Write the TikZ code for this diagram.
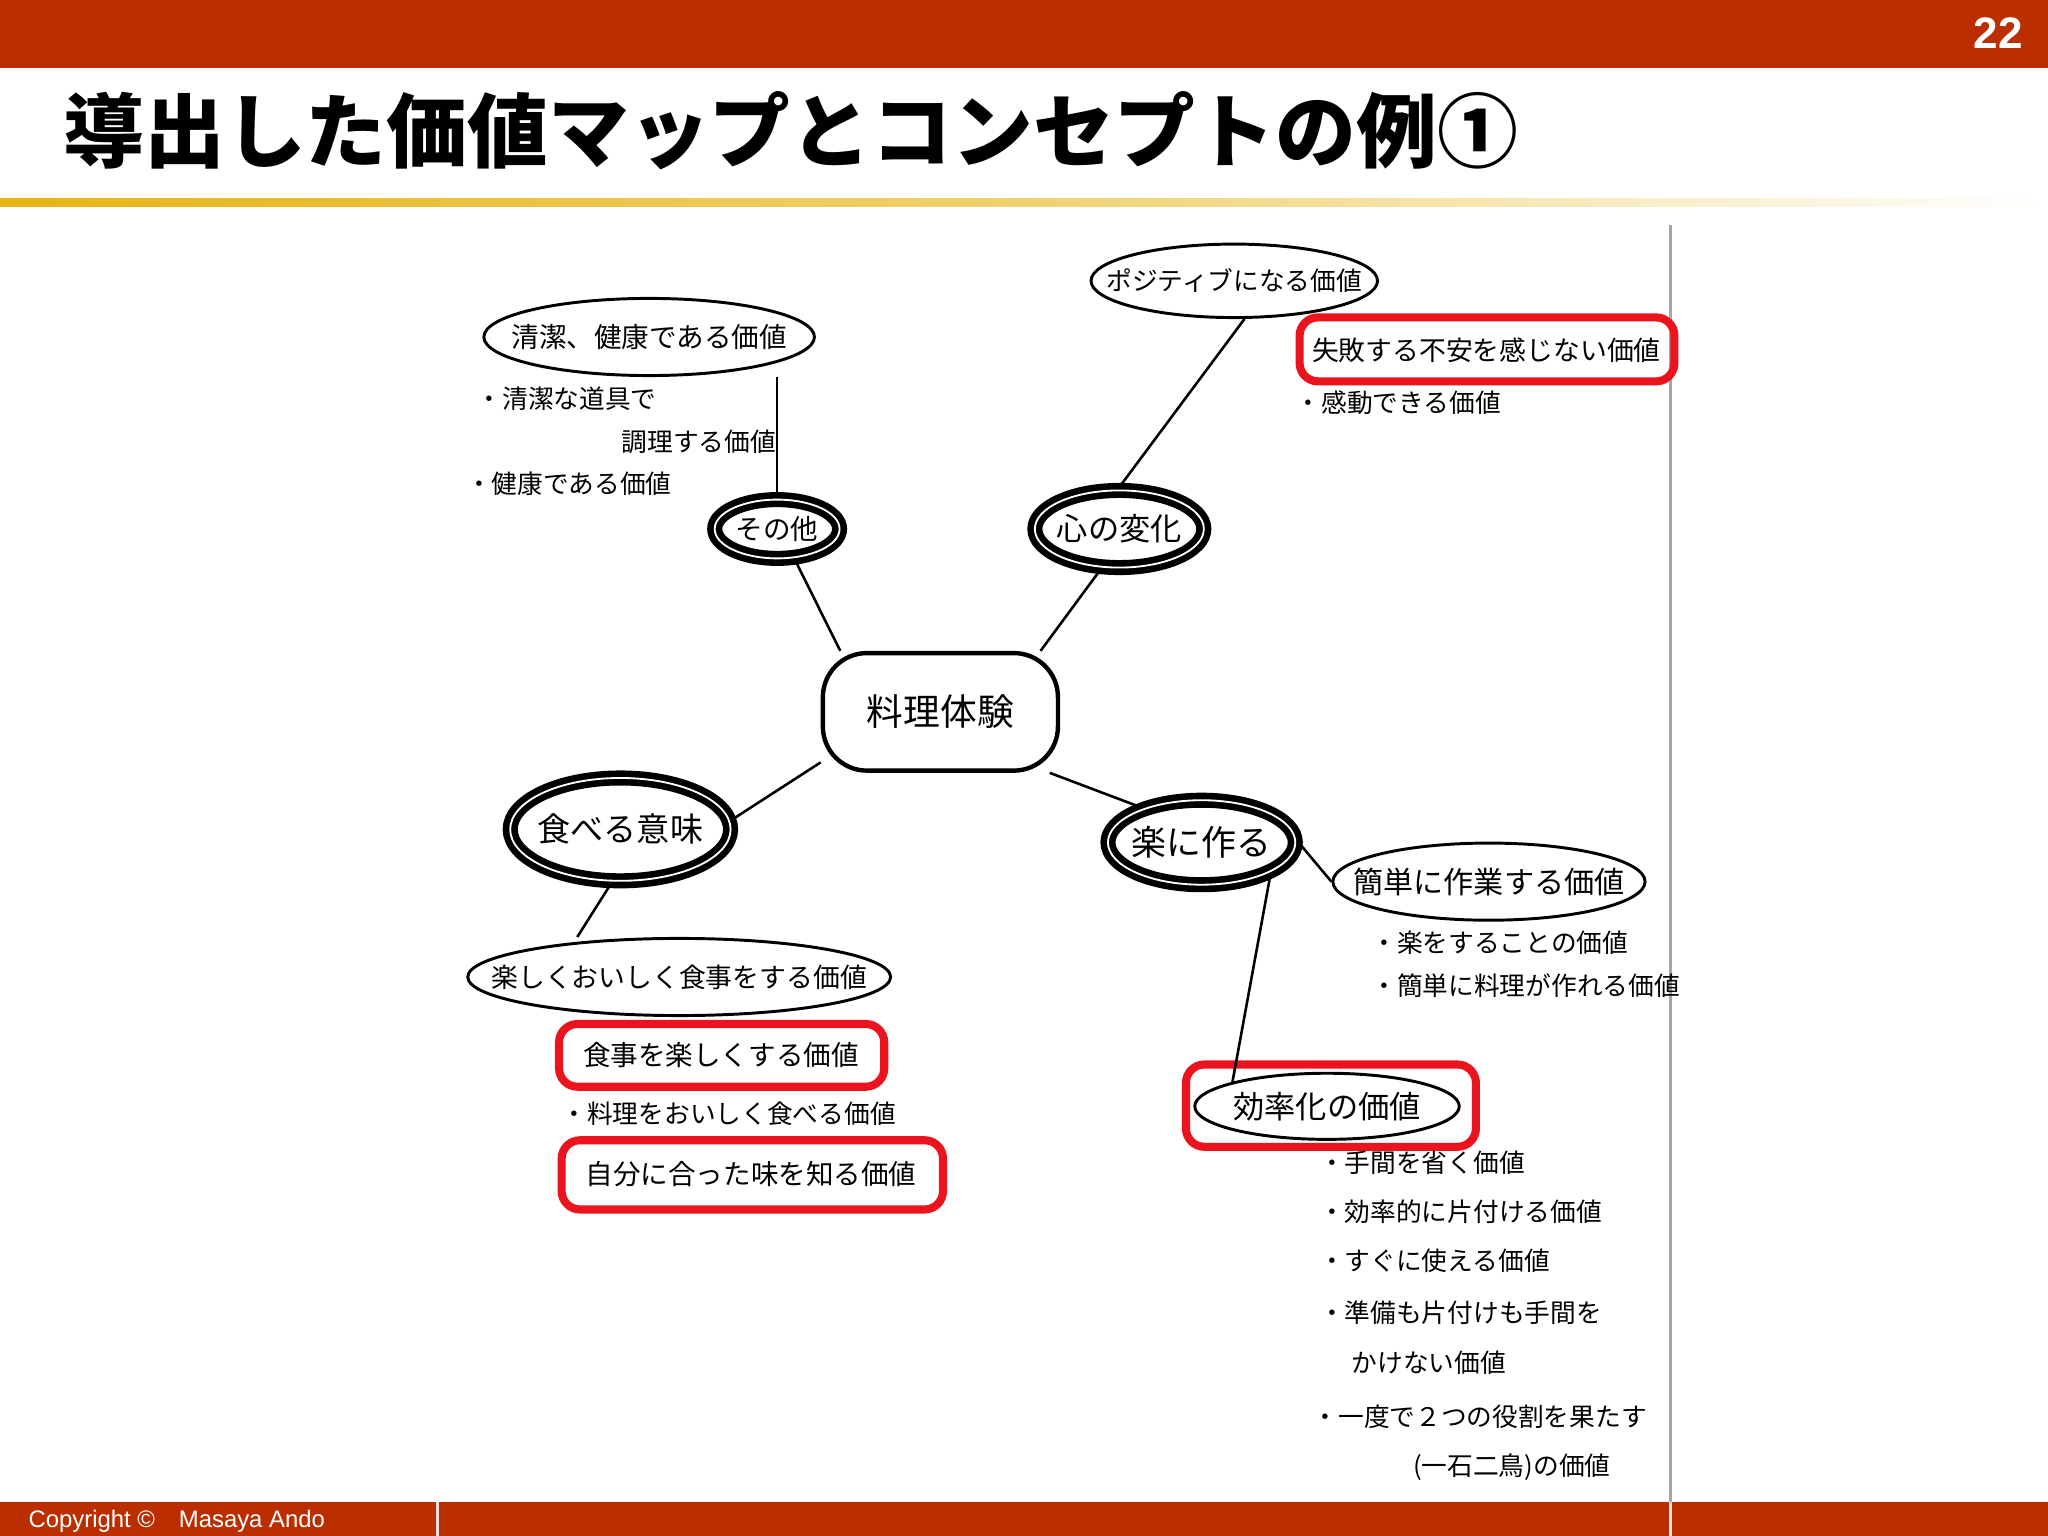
\documentclass[tikz,border=0pt]{standalone}
\usepackage{fontspec}
\setmainfont{Noto Sans CJK JP}
\newfontfamily\jp{Noto Sans CJK JP}
\newfontfamily\arialf{Liberation Sans}
\definecolor{barred}{RGB}{186,46,0}
\definecolor{boxred}{RGB}{235,20,30}
\definecolor{goldl}{RGB}{230,180,20}
\usetikzlibrary{shapes.geometric}
\newcommand{\fs}[1]{\jp\fontsize{#1}{#1}\selectfont}
\begin{document}
\begin{tikzpicture}[x=0.0125cm,y=-0.0125cm,
  bub/.style={draw,ellipse,line width=0.8pt,inner ysep=0pt},
  hub/.style={draw,ellipse,line width=1.8pt,double=white,double distance=0.5pt,inner ysep=0pt},
  redbox/.style={draw=boxred,line width=2.2pt,rounded corners=5pt},
  lst/.style={font=\fs{7},align=left,anchor=north west},
  ln/.style={line width=0.7pt}]
\useasboundingbox (0,0) rectangle (1568,1176);
\fill[white] (0,0) rectangle (1568,1176);
\fill[barred] (0,0) rectangle (1568,52);
\node[text=white,font=\arialf\bfseries\fontsize{12}{14}\selectfont] (pg) at (1530,25) {22};
\node[anchor=west,inner sep=0pt,font=\jp\bfseries\fontsize{22}{24}\selectfont] (title) at (48,100) {導出した価値マップとコンセプトの例①};
\shade[left color=goldl,right color=goldl!60!white] (0,152) rectangle (800,158);
\shade[left color=goldl!60!white,right color=white] (800,152) rectangle (1568,158);
\draw[gray!70,line width=0.6pt] (1279,172) -- (1279,1150);
\fill[barred] (0,1150) rectangle (1568,1176);
\draw[white!85!barred,line width=0.6pt] (335,1150) -- (335,1176) (1279,1150) -- (1279,1176);
\node[anchor=west,text=white,font=\arialf\fontsize{6.5}{8}\selectfont] (copy) at (12,1165) {Copyright ©\quad Masaya Ando};

% center and hubs
\node[draw,rounded corners=12pt,line width=1.2pt,minimum width=64pt,minimum height=32pt,font=\fs{10}] (core) at (720,545) {料理体験};
\node[hub,inner xsep=0pt,minimum width=34pt,minimum height=16pt,font=\fs{7.5}] (sono) at (595,405) {その他};
\node[hub,inner xsep=-1.3pt,minimum width=46pt,minimum height=21pt,font=\fs{8.5}] (kok) at (857,405) {心の変化};
\node[hub,inner xsep=-1.8pt,minimum width=60pt,minimum height=28pt,font=\fs{9}] (tab) at (475,635) {食べる意味};
\node[hub,inner xsep=-1.5pt,minimum width=51pt,minimum height=23pt,font=\fs{9.5}] (raku) at (920,645) {楽に作る};

% value bubbles
\node[bub,inner xsep=-5.7pt,minimum width=90pt,minimum height=21pt,font=\fs{7.5}] (seik) at (497,258) {清潔、健康である価値};
\node[bub,inner xsep=-7.4pt,minimum width=78pt,minimum height=20pt,font=\fs{7}] (posi) at (945,215) {ポジティブになる価値};
\node[bub,inner xsep=-7pt,minimum width=85pt,minimum height=21pt,font=\fs{8.2}] (kan) at (1140,675) {簡単に作業する価値};
\node[bub,inner xsep=-10.4pt,minimum width=115pt,minimum height=21pt,font=\fs{7.3}] (tano) at (520,748) {楽しくおいしく食事をする価値};
\node[bub,inner xsep=-1pt,minimum width=72pt,minimum height=18pt,font=\fs{8.5}] (kou) at (1016,847) {効率化の価値};
\draw[redbox] (908,815) rectangle (1130,878);

\draw[redbox] (995,243) rectangle (1282,292);
\node[font=\fs{7.3}] (shippai) at (1138,268) {失敗する不安を感じない価値};
\draw[redbox] (428,784) rectangle (677,832);
\node[font=\fs{7.5}] (shoku) at (552,808) {食事を楽しくする価値};
\draw[redbox] (430,873) rectangle (722,926);
\node[font=\fs{7.5}] (jibun) at (575,899) {自分に合った味を知る価値};

% lists
\node[lst,anchor=west] (l1a) at (355,305) {・清潔な道具で};
\node[lst,anchor=west] (l1b) at (466,338) {調理する価値};
\node[lst,anchor=west] (l1c) at (347,370) {・健康である価値};
\node[lst,anchor=west] (l2) at (982,308) {・感動できる価値};
\node[lst,anchor=west] (l3a) at (1040,722) {・楽をすることの価値};
\node[lst,anchor=west] (l3b) at (1040,755) {・簡単に料理が作れる価値};
\node[lst,anchor=west] (l4) at (420,853) {・料理をおいしく食べる価値};
\node[lst,anchor=west] (l5a) at (1000,890) {・手間を省く価値};
\node[lst,anchor=west] (l5b) at (1000,928) {・効率的に片付ける価値};
\node[lst,anchor=west] (l5c) at (1000,965) {・すぐに使える価値};
\node[lst,anchor=west] (l5d) at (1000,1005) {・準備も片付けも手間を};
\node[lst,anchor=west] (l5e) at (1025,1043) {かけない価値};
\node[lst,anchor=west] (l5f) at (995,1085) {・一度で２つの役割を果たす};
\node[lst,anchor=west] (l5g) at (1072,1123) {(一石二鳥)の価値};

% connectors
\draw[ln] (core.north west) ++(15,0) coordinate (c1) -- (sono.-60);
\draw[ln] (core.north east) ++(-15,0) coordinate (c2) -- (kok.-115);
\draw[ln] (core.south west) ++(0,-8) coordinate (c3) -- (tab.5);
\draw[ln] (core.south east) ++(-8,0) coordinate (c4) -- (raku.150);
\draw[ln] (sono.north) -- (sono.north |- seik.south);
\draw[ln] (kok.north) -- (posi.-75);
\draw[ln] (tab.-100) -- (tano.north -| 442,0);
\draw[ln] (raku.east) -- (kan.west);
\draw[ln] (raku.-25) -- (kou.north west);
\end{tikzpicture}
\end{document}
